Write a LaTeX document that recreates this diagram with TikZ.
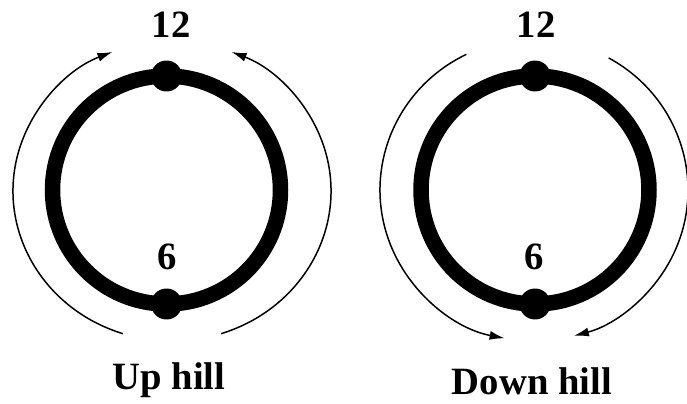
\documentclass[tikz,border=0pt]{standalone}
\usepackage{fontspec}
\setmainfont{Liberation Serif}
\usetikzlibrary{
  arrows.meta,
  positioning
}
\tikzset{
  ring/.style={line width=0.31cm,draw=black},
  hinge/.style={circle,fill=black,inner sep=0pt,minimum size=0.62cm},
  hourlabel/.style={font=\fontsize{22}{26}\selectfont\bfseries,anchor=base,inner sep=0pt},
  hilllabel/.style={font=\fontsize{22}{26}\selectfont\bfseries,anchor=base,inner sep=0pt},
  flowarrow/.style={-{Latex[length=3mm,width=1.8mm]},line width=0.85pt,draw=black}
}

\begin{document}
\begin{tikzpicture}[x=0.02cm,y=0.02cm]
  \useasboundingbox (0,0) rectangle (687,403);

  % up hill
  \coordinate (upC) at (166.5,213);
  \coordinate (upA) at (172,212);
  \draw[ring] (upC) circle[radius=114];
  \node[hinge] (upTop) at ([shift={(0,114)}]upC) {};
  \node[hinge] (upBot) at ([shift={(0,-114)}]upC) {};
  \node[hourlabel] (upTwelve) at (171,365) {12};
  \node[hourlabel] (upSix) at (167,133) {6};
  \node[hilllabel] (upName) at (169,14) {Up hill};
  \draw[flowarrow] ([shift={(252:159 and 150)}]upA) arc[start angle=252,end angle=112,x radius=159,y radius=150];
  \draw[flowarrow] ([shift={(-72:159 and 150)}]upA) arc[start angle=-72,end angle=68,x radius=159,y radius=150];

  % down hill
  \coordinate (downC) at (535,213);
  \coordinate (downA) at (534,213);
  \draw[ring] (downC) circle[radius=114];
  \node[hinge] (downTop) at ([shift={(0,114)}]downC) {};
  \node[hinge] (downBot) at ([shift={(0,-114)}]downC) {};
  \node[hourlabel] (downTwelve) at (536,365) {12};
  \node[hourlabel] (downSix) at (534,133) {6};
  \node[hilllabel] (downName) at (532,9) {Down hill};
  \draw[flowarrow] ([shift={(116:154 and 151)}]downA) arc[start angle=116,end angle=259,x radius=154,y radius=151];
  \draw[flowarrow] ([shift={(61:154 and 151)}]downA) arc[start angle=61,end angle=-75,x radius=154,y radius=151];
\end{tikzpicture}
\end{document}
